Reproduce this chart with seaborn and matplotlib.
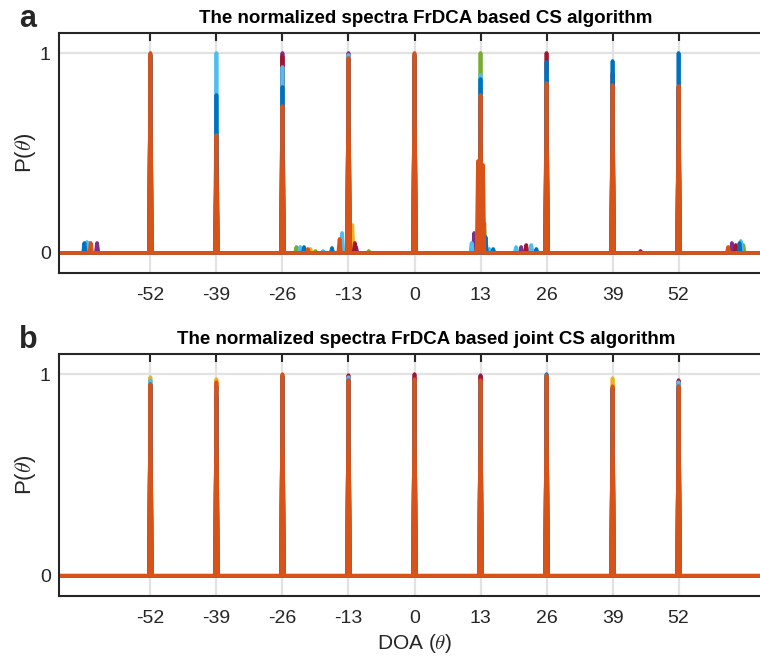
import numpy as np
import pandas as pd
import matplotlib
matplotlib.use("Agg")
import matplotlib.pyplot as plt
import seaborn as sns

# ---------------- data ----------------
DOA = [-52, -39, -26, -13, 0, 13, 26, 39, 52]
TICK_LABELS = ["-52", "-39", "-26", "-13", "0", "13", "26", "39", "52"]
THETA_STEP = 0.25
THETA_RANGE = (-70, 70)

# draw order of the Monte-Carlo trials (last one on top)
TRIALS = ["green", "yellow", "purple", "darkred", "lightblue", "blue", "orange"]
PALETTE = {"blue": "#0072BD", "orange": "#D95319", "yellow": "#EDB120",
           "purple": "#7E2F8E", "green": "#77AC30", "lightblue": "#4DBEEE",
           "darkred": "#A2142F"}

# panel a: peak heights at each DOA for each trial
peaks_a_green = [0.98, 0.50, 0.60, 0.90, 0.95, 1.00, 0.70, 0.75, 0.80]
peaks_a_yellow = [0.97, 0.55, 0.97, 0.92, 0.96, 0.70, 0.80, 0.78, 0.82]
peaks_a_purple = [0.99, 0.52, 1.00, 1.00, 0.97, 0.75, 0.82, 0.80, 0.83]
peaks_a_darkred = [0.98, 0.56, 0.985, 0.98, 0.98, 0.72, 1.00, 0.90, 0.80]
peaks_a_lightblue = [0.99, 1.00, 0.93, 0.99, 0.99, 0.89, 0.90, 0.83, 0.82]
peaks_a_blue = [0.99, 0.79, 0.83, 0.97, 0.99, 0.87, 0.955, 0.96, 1.00]
peaks_a_orange = [1.00, 0.59, 0.735, 0.975, 1.00, 0.79, 0.85, 0.84, 0.835]

# panel a: spurious peaks (theta, height, trial)
spur_a_theta = [-65.0, -64.5, -64.0, -63.75, -62.5,
                -23.25, -22.5, -21.75, -21.0, -20.5, -19.5, -18.0, -16.25,
                -14.75, -14.25, -12.25, -11.75, -11.5, -9.0,
                11.25, 11.75, 12.5, 13.5, 13.75, 14.0, 14.75, 15.5,
                20.0, 21.0, 22.0, 23.0, 24.0,
                44.5,
                61.75, 62.5, 63.25, 64.0, 64.25, 64.75]
spur_a_height = [0.05, 0.055, 0.05, 0.05, 0.05,
                 0.03, 0.03, 0.03, 0.02, 0.02, 0.01, 0.01, 0.025,
                 0.07, 0.10, 0.14, 0.05, 0.03, 0.01,
                 0.05, 0.10, 0.46, 0.44, 0.15, 0.08, 0.02, 0.02,
                 0.03, 0.03, 0.04, 0.04, 0.02,
                 0.01,
                 0.03, 0.05, 0.04, 0.05, 0.06, 0.04]
spur_a_trial = ["blue", "lightblue", "green", "orange", "purple",
                "green", "lightblue", "blue", "orange", "yellow", "green", "lightblue", "blue",
                "orange", "lightblue", "yellow", "darkred", "purple", "green",
                "lightblue", "purple", "orange", "orange", "green", "blue", "lightblue", "blue",
                "lightblue", "purple", "darkred", "lightblue", "blue",
                "darkred",
                "orange", "purple", "darkred", "blue", "lightblue", "green"]

# panel b: peak heights at each DOA for each trial
peaks_b_green = [0.93, 0.93, 0.97, 0.95, 0.96, 0.95, 0.97, 0.93, 0.92]
peaks_b_yellow = [0.985, 0.975, 0.98, 0.96, 0.97, 0.96, 0.98, 0.98, 0.93]
peaks_b_purple = [0.94, 0.94, 0.99, 0.97, 0.98, 0.995, 0.98, 0.93, 0.93]
peaks_b_darkred = [0.94, 0.87, 0.98, 0.995, 1.00, 0.99, 0.97, 0.92, 0.97]
peaks_b_lightblue = [0.97, 0.93, 0.99, 0.985, 0.97, 0.96, 0.99, 0.93, 0.96]
peaks_b_blue = [0.95, 0.89, 0.99, 0.97, 0.97, 0.96, 1.00, 0.93, 0.94]
peaks_b_orange = [0.95, 0.96, 1.00, 0.97, 0.975, 0.97, 0.995, 0.94, 0.94]

TITLE_A = "The normalized spectra FrDCA based CS algorithm"
TITLE_B = "The normalized spectra FrDCA based joint CS algorithm"


# ---------------- build spectra ----------------
theta = np.round(np.arange(THETA_RANGE[0], THETA_RANGE[1] + THETA_STEP / 2, THETA_STEP), 3)


def idx(t):
    return int(round((t - THETA_RANGE[0]) / THETA_STEP))


def build(peaks, spur_theta=(), spur_height=(), spur_trial=()):
    frames = []
    for name in TRIALS:
        p = np.zeros_like(theta)
        for d, h in zip(DOA, peaks[name]):
            p[idx(d)] = h
        for t, h, tr in zip(spur_theta, spur_height, spur_trial):
            if tr == name:
                p[idx(t)] = max(p[idx(t)], h)
        frames.append(pd.DataFrame({"theta": theta, "P": p, "trial": name}))
    return pd.concat(frames, ignore_index=True)


df_a = build({"green": peaks_a_green, "yellow": peaks_a_yellow, "purple": peaks_a_purple,
              "darkred": peaks_a_darkred, "lightblue": peaks_a_lightblue,
              "blue": peaks_a_blue, "orange": peaks_a_orange},
             spur_a_theta, spur_a_height, spur_a_trial)
df_b = build({"green": peaks_b_green, "yellow": peaks_b_yellow, "purple": peaks_b_purple,
              "darkred": peaks_b_darkred, "lightblue": peaks_b_lightblue,
              "blue": peaks_b_blue, "orange": peaks_b_orange})

# ---------------- plot ----------------
sns.set_theme(style="white")
plt.rcParams["font.family"] = ["Liberation Sans", "DejaVu Sans"]
plt.rcParams["mathtext.fontset"] = "cm"

W, H = 760, 660
fig = plt.figure(figsize=(W / 100, H / 100), dpi=100)
ax_a = fig.add_axes([59 / W, 1 - 273 / H, 711 / W, 240 / H])
ax_b = fig.add_axes([59 / W, 1 - 596 / H, 711 / W, 242 / H])

DARK = "#262626"
for ax, df, title in [(ax_a, df_a, TITLE_A), (ax_b, df_b, TITLE_B)]:
    ax.set_axisbelow(True)
    sns.lineplot(data=df, x="theta", y="P", hue="trial", hue_order=TRIALS,
                 palette=PALETTE, estimator=None, legend=False, linewidth=2.7,
                 ax=ax)
    ax.set_xlim(*THETA_RANGE)
    ax.set_ylim(-0.1, 1.1)
    ax.set_xticks(DOA)
    ax.set_xticklabels(TICK_LABELS)
    ax.set_yticks([0, 1])
    ax.set_yticklabels(["0", "1"])
    ax.grid(True, color="#e2e2e2", linewidth=1.6)
    ax.tick_params(direction="in", length=6, width=1.5, top=True, right=True,
                   color=DARK, labelcolor=DARK, labelsize=14)
    ax.tick_params(axis="x", pad=10)
    ax.tick_params(axis="y", pad=6)
    for s in ax.spines.values():
        s.set_visible(True)
        s.set_color(DARK)
        s.set_linewidth(1.5)
    ax.set_title(title, fontsize=13.5, fontweight="bold", pad=7, color="black",
                 x=0.516)
    ax.set_ylabel("P($\\theta$)", fontsize=16, color=DARK)
    ax.yaxis.set_label_coords(-0.029, 0.5)
    ax.set_xlabel("")

ax_b.set_xlabel("DOA ($\\theta$)", fontsize=15, color=DARK)

fig.text(19 / W, 1 - 19 / H, "a", fontsize=22, fontweight="bold", va="center", ha="left")
fig.text(19 / W, 1 - 340 / H, "b", fontsize=22, fontweight="bold", va="center", ha="left")

fig.savefig("out.png", dpi=100)
